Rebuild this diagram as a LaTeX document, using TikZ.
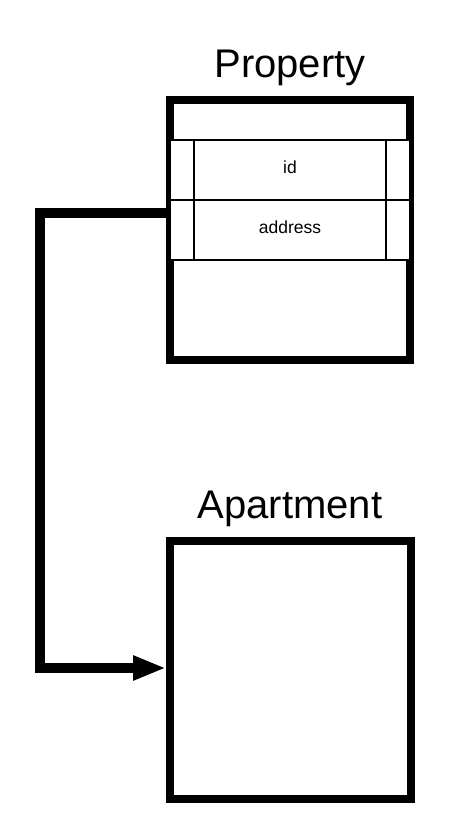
\documentclass[tikz,border=0pt]{standalone}
\usepackage{fontspec}
\setmainfont{Liberation Sans}
\usetikzlibrary{arrows.meta}
\begin{document}
\begin{tikzpicture}[x=1pt,y=-1pt,
  entity/.style={draw=black,line width=8pt,fill=white,rectangle,inner sep=0pt,miter limit=10},
  rowbox/.style={draw=black,line width=1.5pt,fill=white},
  title/.style={font=\fontsize{40}{48}\selectfont,anchor=base,inner sep=0pt},
  field/.style={font=\fontsize{17.5}{21}\selectfont,anchor=base,inner sep=0pt},
  conn/.style={draw=black,line width=10pt,line join=miter,-{Triangle[length=33pt,width=23pt]}}]
\useasboundingbox (0,0) rectangle (450,840);
% Property entity
\node[entity,minimum width=240pt,minimum height=260pt] (property) at (290,230) {};
\node[title] (ptitle) at (290,78) {Property};
% rows
\draw[rowbox] (170,140) rectangle (410,200);
\draw[rowbox] (170,200) rectangle (410,260);
\draw[line width=1.5pt] (194,140) -- (194,260);
\draw[line width=1.5pt] (386,140) -- (386,260);
\node[field] (fid) at (290,173.5) {id};
\node[field] (faddr) at (290,233.5) {address};
% Apartment entity
\node[entity,minimum width=241pt,minimum height=258pt] (apartment) at (290.5,670) {};
\node[title] (atitle) at (290,518) {Apartment};
% connector
\coordinate (c1) at (40,213);
\coordinate (startpt) at (166,213);
\draw[conn] (startpt) -- (c1) |- ([yshift=2pt]apartment.west);
\end{tikzpicture}
\end{document}
